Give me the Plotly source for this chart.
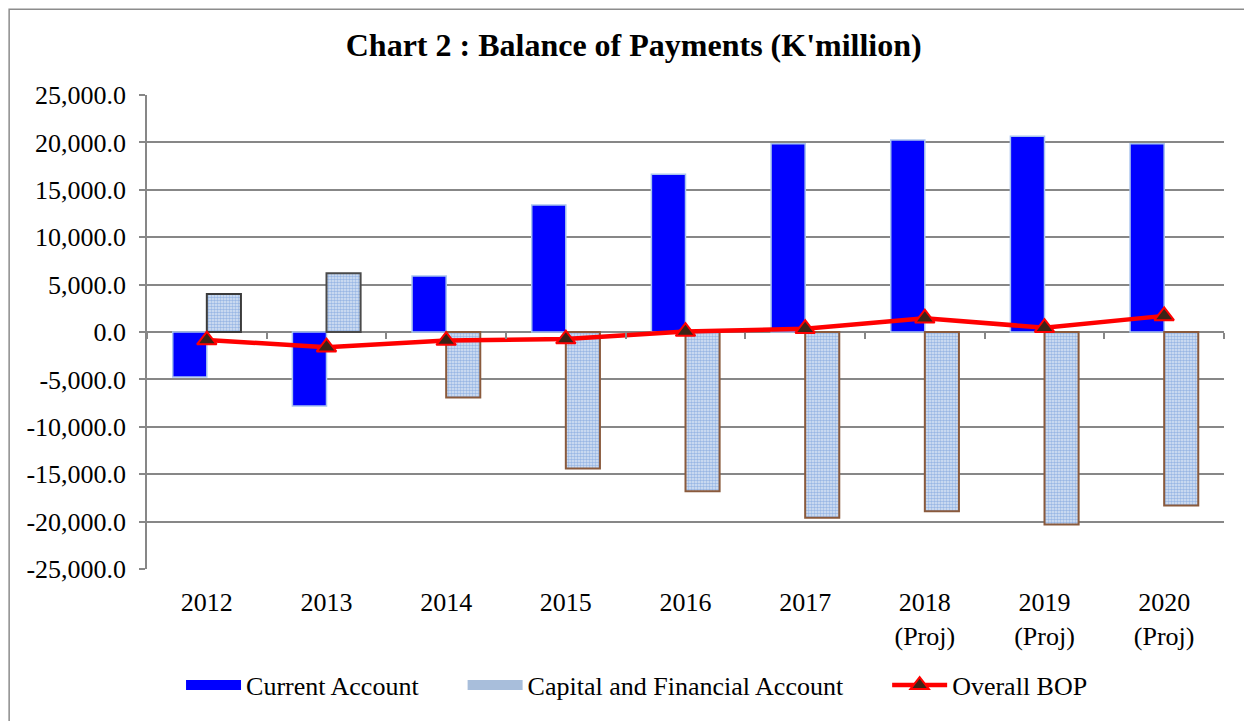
import plotly.graph_objects as go

# chart data
years = ["2012", "2013", "2014", "2015", "2016", "2017",
         "2018<br>(Proj)", "2019<br>(Proj)", "2020<br>(Proj)"]
current_account = [-4750, -7800, 5900, 13400, 16650, 19850, 20250, 20650, 19850]
capital_financial = [4000, 6200, -6900, -14400, -16800, -19600, -18900, -20300, -18300]
overall_bop = [-850, -1600, -900, -750, 50, 350, 1450, 450, 1700]

y_ticks = [25000, 20000, 15000, 10000, 5000, 0, -5000, -10000, -15000, -20000, -25000]
y_tick_text = ["25,000.0", "20,000.0", "15,000.0", "10,000.0", "5,000.0", "0.0",
               "-5,000.0", "-10,000.0", "-15,000.0", "-20,000.0", "-25,000.0"]

serif = "Liberation Serif, Times New Roman, serif"
grid = "#878787"
fsize = 26
pad = "\u00a0" * 6  # extra room between legend entries

# outline colours for the capital account bars (first two darker)
cap_edges = ["#3b3b3b", "#4a4a4a"] + ["#8a5a3c"] * 7

fig = go.Figure()

fig.add_trace(go.Bar(
    x=years, y=current_account, name="Current Account", showlegend=False,
    legendgroup="ca",
    marker=dict(color="#0000ff", line=dict(color="#a9c4ee", width=1.5)),
))

fig.add_trace(go.Bar(
    x=years, y=capital_financial, name="Capital and Financial Account",
    showlegend=False, legendgroup="cfa",
    marker=dict(color="#ffffff",
                line=dict(color=cap_edges, width=2),
                pattern=dict(shape=".", fgcolor="#5a8ad4", bgcolor="#d9e5f5",
                             size=3, solidity=0.55)),
))

# line sits on an overlaying axis that also draws the boundary ticks on the zero line
fig.add_trace(go.Scatter(
    x=years, y=overall_bop, name="Overall BOP", xaxis="x2",
    mode="lines+markers", legendrank=3,
    line=dict(color="#ff0000", width=4.5),
    marker=dict(symbol="triangle-up", size=17, color="#3b2417",
                line=dict(color="#ff0000", width=2)),
))

# legend-only entries so the bar keys show as wide blocks like the original
fig.add_trace(go.Scatter(
    x=[None], y=[None], name="Current Account" + pad, mode="lines", legendgroup="ca",
    line=dict(color="#0000ff", width=15), legendrank=1,
))
fig.add_trace(go.Scatter(
    x=[None], y=[None], name="Capital and Financial Account" + pad, mode="lines",
    legendgroup="cfa", line=dict(color="#a8bedb", width=15), legendrank=2,
))

fig.update_layout(
    width=1244, height=713,
    paper_bgcolor="white", plot_bgcolor="white",
    margin=dict(l=139, r=28, t=87, b=152),
    title=dict(text="<b>Chart 2 : Balance of Payments (K'million)</b>",
               x=0.503, xanchor="center", y=0.948, yanchor="middle",
               font=dict(family=serif, size=32, color="black")),
    font=dict(family=serif, size=fsize, color="black"),
    barmode="group", bargap=0.43, bargroupgap=0,
    showlegend=True,
    legend=dict(orientation="h", x=0.455, xanchor="center", y=-0.245, yanchor="middle",
                font=dict(family=serif, size=fsize, color="black"),
                itemwidth=55),
    xaxis=dict(type="category", categoryarray=years, range=[-0.5, 8.5],
               showgrid=False, showline=False, ticks="", zeroline=False,
               ticklabelstandoff=15,
               tickfont=dict(family=serif, size=fsize, color="black")),
    xaxis2=dict(type="category", categoryarray=years, range=[-0.5, 8.5],
                overlaying="x", anchor="free", position=0.5,
                showticklabels=False, showgrid=False, showline=False,
                ticks="outside", tickson="boundaries", ticklen=6,
                tickcolor=grid, tickwidth=1.5),
    yaxis=dict(range=[-25000, 25000], tickvals=y_ticks, ticktext=y_tick_text,
               showgrid=True, gridcolor=grid, gridwidth=1.5,
               zeroline=True, zerolinecolor=grid, zerolinewidth=1.5,
               showline=True, linecolor=grid, linewidth=1.5,
               ticks="outside", ticklen=6, tickcolor=grid, tickwidth=1.5,
               ticklabelstandoff=8,
               tickfont=dict(family=serif, size=fsize, color="black")),
    shapes=[dict(type="rect", xref="paper", yref="paper",
                 x0=-0.128, x1=1.04, y0=-0.34, y1=1.181,
                 line=dict(color="#8c8c8c", width=1.5), layer="below")],
)

fig.write_html("out.html")
